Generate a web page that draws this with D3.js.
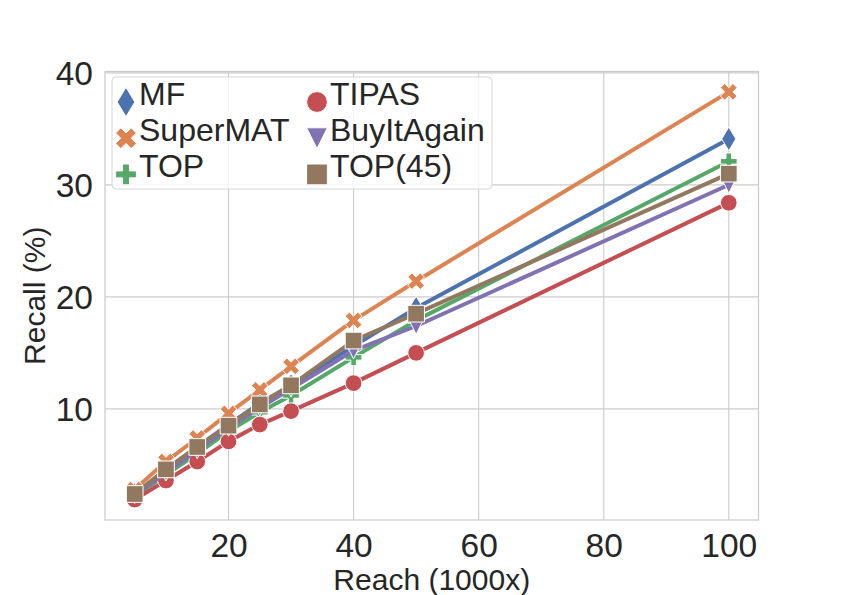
<!DOCTYPE html>
<html>
<head>
<meta charset="utf-8">
<script src="https://cdn.jsdelivr.net/npm/d3@7"></script>
<style>
  html, body { margin: 0; padding: 0; background: #fff; }
  text { font-family: 'Liberation Sans', Arial, sans-serif; fill: #262626; }
</style>
</head>
<body>
<div id="chart"></div>
<script>
// values
const reach = [5, 10, 15, 20, 25, 30, 40, 50, 100]
const seriesNames = ['MF', 'SuperMAT', 'TOP', 'TIPAS', 'BuyItAgain', 'TOP(45)']
const recallMF = [2.4, 4.6, 6.6, 8.6, 10.5, 12.1, 15.6, 19.0, 34.1]
const recallSuperMAT = [2.8, 5.3, 7.4, 9.6, 11.7, 13.8, 17.9, 21.4, 38.3]
const recallTOP = [2.2, 4.1, 6.0, 8.0, 9.7, 11.2, 14.6, 17.9, 32.1]
const recallTIPAS = [1.9, 3.6, 5.3, 7.1, 8.6, 9.8, 12.3, 15.0, 28.4]
const recallBuyItAgain = [2.3, 4.3, 6.3, 8.3, 10.1, 11.8, 15.2, 17.4, 30.0]
const recallTOP45 = [2.4, 4.6, 6.6, 8.5, 10.4, 12.1, 16.1, 18.5, 31.0]
const xTicks = [20, 40, 60, 80, 100]
const yTicks = [10, 20, 30, 40]

const recallValues = [recallMF, recallSuperMAT, recallTOP, recallTIPAS, recallBuyItAgain, recallTOP45]
const colors = ['#4C72B0', '#DD8452', '#55A868', '#C44E52', '#8172B3', '#937860']

// matplotlib-like marker shapes, size = marker size in px
const markers = {
  diamond: { draw(ctx, s) {
    const h = s * Math.SQRT2 / 2, w = h * 0.6
    ctx.moveTo(0, -h); ctx.lineTo(w, 0); ctx.lineTo(0, h); ctx.lineTo(-w, 0); ctx.closePath()
  } },
  xfilled: { draw(ctx, s) {
    const pts = [[-1, -2], [0, -1], [1, -2], [2, -1], [1, 0], [2, 1], [1, 2], [0, 1], [-1, 2], [-2, 1], [-1, 0], [-2, -1]]
    pts.forEach(([x, y], i) => i ? ctx.lineTo(x * s / 4, y * s / 4) : ctx.moveTo(x * s / 4, y * s / 4))
    ctx.closePath()
  } },
  plus: { draw(ctx, s) {
    const pts = [[-1, -3], [1, -3], [1, -1], [3, -1], [3, 1], [1, 1], [1, 3], [-1, 3], [-1, 1], [-3, 1], [-3, -1], [-1, -1]]
    pts.forEach(([x, y], i) => i ? ctx.lineTo(x * s / 6, y * s / 6) : ctx.moveTo(x * s / 6, y * s / 6))
    ctx.closePath()
  } },
  circle: { draw(ctx, s) {
    ctx.moveTo(s / 2, 0); ctx.arc(0, 0, s / 2, 0, 2 * Math.PI)
  } },
  triangleDown: { draw(ctx, s) {
    ctx.moveTo(0, s / 2); ctx.lineTo(s / 2, -s / 2); ctx.lineTo(-s / 2, -s / 2); ctx.closePath()
  } },
  square: { draw(ctx, s) {
    ctx.rect(-s / 2, -s / 2, s, s)
  } },
}
const markerOrder = ['diamond', 'xfilled', 'plus', 'circle', 'triangleDown', 'square']

const series = seriesNames.map((name, i) => ({
  name,
  color: colors[i],
  marker: markers[markerOrder[i]],
  points: reach.map((x, j) => ({ x, y: recallValues[i][j] })),
}))

const dimensions = {
  width: 842,
  height: 595,
  margins: { top: 71.5, right: 83.5, bottom: 75, left: 105 },
}
dimensions.ctrWidth = dimensions.width - dimensions.margins.left - dimensions.margins.right
dimensions.ctrHeight = dimensions.height - dimensions.margins.top - dimensions.margins.bottom

function createSVG(container, dimensions) {
  return d3.select(container)
    .append('svg')
    .attr('width', dimensions.width)
    .attr('height', dimensions.height)
}

function createContainer(svg, dimensions) {
  return svg.append('g')
    .attr('transform', `translate(${dimensions.margins.left}, ${dimensions.margins.top})`)
}

function createXscale(xPaddingFactor, dimensions) {
  const [xMin, xMax] = d3.extent(reach)
  const xRange = xMax - xMin
  return d3.scaleLinear()
    .domain([xMin - xRange * xPaddingFactor, xMax + xRange * xPaddingFactor])
    .range([0, dimensions.ctrWidth])
}

function createYscale(yPaddingFactor, dimensions) {
  const [yMin, yMax] = d3.extent(recallValues.flat())
  const yRange = yMax - yMin
  return d3.scaleLinear()
    .domain([yMin - yRange * yPaddingFactor, yMax + yRange * yPaddingFactor])
    .range([dimensions.ctrHeight, 0])
}

function renderGrid(ctr, xScale, yScale, dimensions) {
  ctr.append('g')
    .selectAll('line')
    .data(xTicks)
    .join('line')
    .attr('x1', d => xScale(d)).attr('x2', d => xScale(d))
    .attr('y1', 0).attr('y2', dimensions.ctrHeight)
    .attr('stroke', '#cccccc')
    .attr('stroke-width', 1.1)

  ctr.append('g')
    .selectAll('line')
    .data(yTicks)
    .join('line')
    .attr('x1', 0).attr('x2', dimensions.ctrWidth)
    .attr('y1', d => yScale(d)).attr('y2', d => yScale(d))
    .attr('stroke', '#cccccc')
    .attr('stroke-width', 1.1)
}

function renderXaxis(ctr, xScale, dimensions) {
  const xAxis = d3.axisBottom(xScale)
    .tickValues(xTicks)
    .tickSize(0)
    .tickPadding(0)
    .tickSizeOuter(0)

  const xAxisGroup = ctr.append('g')
    .attr('transform', `translate(0, ${dimensions.ctrHeight})`)
    .call(xAxis)
  xAxisGroup.select('.domain').remove()
  xAxisGroup.selectAll('text')
    .attr('y', 37)
    .attr('dy', null)
    .style('font-size', '33.5px')
    .style('font-family', "'Liberation Sans', Arial, sans-serif")
    .attr('fill', '#262626')

  xAxisGroup.append('text')
    .attr('x', dimensions.ctrWidth / 2)
    .attr('y', 70)
    .style('text-anchor', 'middle')
    .style('font-size', '30px')
    .text('Reach (1000x)')
}

function renderYaxis(ctr, yScale, dimensions) {
  const yAxis = d3.axisLeft(yScale)
    .tickValues(yTicks)
    .tickSize(0)
    .tickPadding(12)
    .tickSizeOuter(0)

  const yAxisGroup = ctr.append('g')
    .call(yAxis)
  yAxisGroup.select('.domain').remove()
  yAxisGroup.selectAll('text')
    .attr('dy', '0.36em')
    .style('font-size', '33.5px')
    .style('font-family', "'Liberation Sans', Arial, sans-serif")
    .attr('fill', '#262626')

  yAxisGroup.append('text')
    .attr('transform', `translate(${-dimensions.margins.left + 45}, ${dimensions.ctrHeight / 2}) rotate(-90)`)
    .style('text-anchor', 'middle')
    .style('font-size', '30px')
    .text('Recall (%)')
}

function renderFrame(ctr, dimensions) {
  ctr.append('rect')
    .attr('width', dimensions.ctrWidth)
    .attr('height', dimensions.ctrHeight)
    .attr('fill', 'none')
    .attr('stroke', '#cccccc')
    .attr('stroke-width', 1.25)
}

function renderData(ctr, xScale, yScale) {
  const line = d3.line()
    .x(d => xScale(d.x))
    .y(d => yScale(d.y))

  series.forEach(s => {
    const g = ctr.append('g')
    g.append('path')
      .attr('d', line(s.points))
      .attr('fill', 'none')
      .attr('stroke', s.color)
      .attr('stroke-width', 4)
      .attr('stroke-linejoin', 'round')
      .attr('stroke-linecap', 'square')

    g.selectAll('path.marker')
      .data(s.points)
      .join('path')
      .attr('class', 'marker')
      .attr('transform', d => `translate(${xScale(d.x)}, ${yScale(d.y)})`)
      .attr('d', d3.symbol().type(s.marker).size(16.7))
      .attr('fill', s.color)
      .attr('stroke', '#ffffff')
      .attr('stroke-width', 1)
  })
}

function renderLegend(svg) {
  const legend = svg.append('g')
  legend.append('rect')
    .attr('x', 112)
    .attr('y', 77)
    .attr('width', 380)
    .attr('height', 112)
    .attr('rx', 4)
    .attr('fill', '#ffffff')
    .attr('fill-opacity', 0.8)
    .attr('stroke', '#d6d6d6')
    .attr('stroke-width', 1)

  const items = legend.selectAll('g.item')
    .data(series)
    .join('g')
    .attr('class', 'item')
    .attr('transform', (d, i) => `translate(${i < 3 ? 126 : 317}, ${105 + (i % 3) * 36.2})`)

  items.append('path')
    .attr('transform', 'translate(0, -3)')
    .attr('d', d => d3.symbol().type(d.marker).size(20.8)())
    .attr('fill', d => d.color)
    .attr('stroke', '#ffffff')
    .attr('stroke-width', 1)

  items.append('text')
    .attr('x', 13)
    .attr('y', 0)
    .style('font-size', '32px')
    .text(d => d.name)
}

const svg = createSVG('#chart', dimensions)
const ctr = createContainer(svg, dimensions)
const xScale = createXscale(0.05, dimensions)
const yScale = createYscale(0.05, dimensions)

renderGrid(ctr, xScale, yScale, dimensions)
renderFrame(ctr, dimensions)
renderXaxis(ctr, xScale, dimensions)
renderYaxis(ctr, yScale, dimensions)
renderData(ctr, xScale, yScale)
renderLegend(svg)
</script>
</body>
</html>
